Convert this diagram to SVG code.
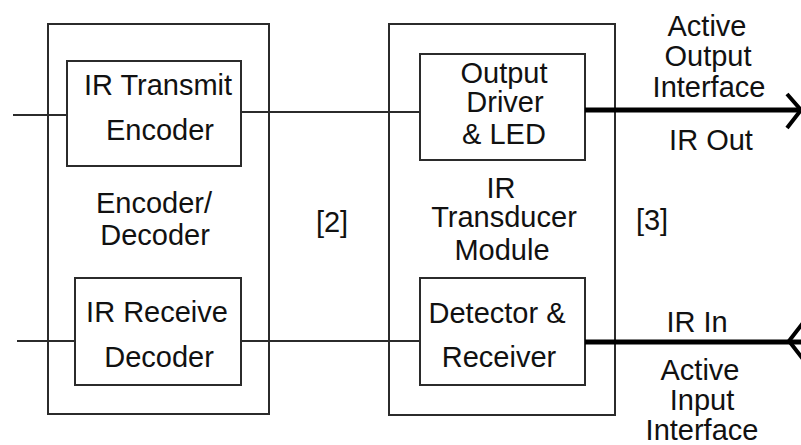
<svg xmlns="http://www.w3.org/2000/svg" width="801" height="445" viewBox="0 0 801 445">
<style>
.box{fill:none;stroke:#2b2b2b;stroke-width:2}
.ln{fill:none;stroke:#2b2b2b;stroke-width:2}
.thick{fill:none;stroke:#000;stroke-width:5}
.chev{fill:none;stroke:#000;stroke-width:4;stroke-linejoin:miter}
text{font-family:"Liberation Sans",Arial,sans-serif;font-size:29px;fill:#111;text-anchor:middle}
</style>
<rect width="801" height="445" fill="#fff"/>
<g id="encoder-decoder">
<rect class="box" x="48" y="24" width="221" height="390"/>
<text x="154" y="213">Encoder/</text>
<text x="155" y="245">Decoder</text>
</g>
<g id="ir-transmit-encoder">
<rect class="box" x="67" y="61" width="174" height="105"/>
<text x="158" y="95">IR Transmit</text>
<text x="160" y="140">Encoder</text>
</g>
<g id="ir-receive-decoder">
<rect class="box" x="75" y="278" width="166" height="107"/>
<text x="157" y="322">IR Receive</text>
<text x="159" y="367">Decoder</text>
</g>
<g id="label-2"><text x="332" y="232">[2]</text></g>
<g id="ir-transducer-module">
<rect class="box" x="389" y="24" width="226" height="391"/>
<text x="501" y="198">IR</text>
<text x="504" y="227">Transducer</text>
<text x="502" y="260">Module</text>
</g>
<g id="output-driver-led">
<rect class="box" x="420" y="54" width="165" height="106"/>
<text x="504" y="83">Output</text>
<text x="505" y="112">Driver</text>
<text x="504" y="144">&amp; LED</text>
</g>
<g id="detector-receiver">
<rect class="box" x="420" y="278" width="165" height="107"/>
<text x="497" y="323">Detector &amp;</text>
<text x="499" y="367">Receiver</text>
</g>
<g id="label-3"><text x="652" y="230">[3]</text></g>
<g id="active-output-interface">
<text x="707" y="36">Active</text>
<text x="708" y="66">Output</text>
<text x="709" y="97">Interface</text>
<text x="711" y="150">IR Out</text>
</g>
<g id="active-input-interface">
<text x="697" y="332">IR In</text>
<text x="700" y="380">Active</text>
<text x="702" y="410">Input</text>
<text x="702" y="440">Interface</text>
</g>
<g id="connectors">
<line class="ln" x1="13" y1="115" x2="67" y2="115"/>
<line class="ln" x1="241" y1="112" x2="420" y2="112"/>
<line class="ln" x1="17" y1="341" x2="75" y2="341"/>
<line class="ln" x1="241" y1="341" x2="420" y2="341"/>
<line class="thick" x1="585" y1="110" x2="799" y2="110"/>
<polyline class="chev" points="787,94 801,110 787,128"/>
<line class="thick" x1="585" y1="342" x2="801" y2="342"/>
<polyline class="chev" points="803,323 789,341 803,359"/>
</g>
</svg>
